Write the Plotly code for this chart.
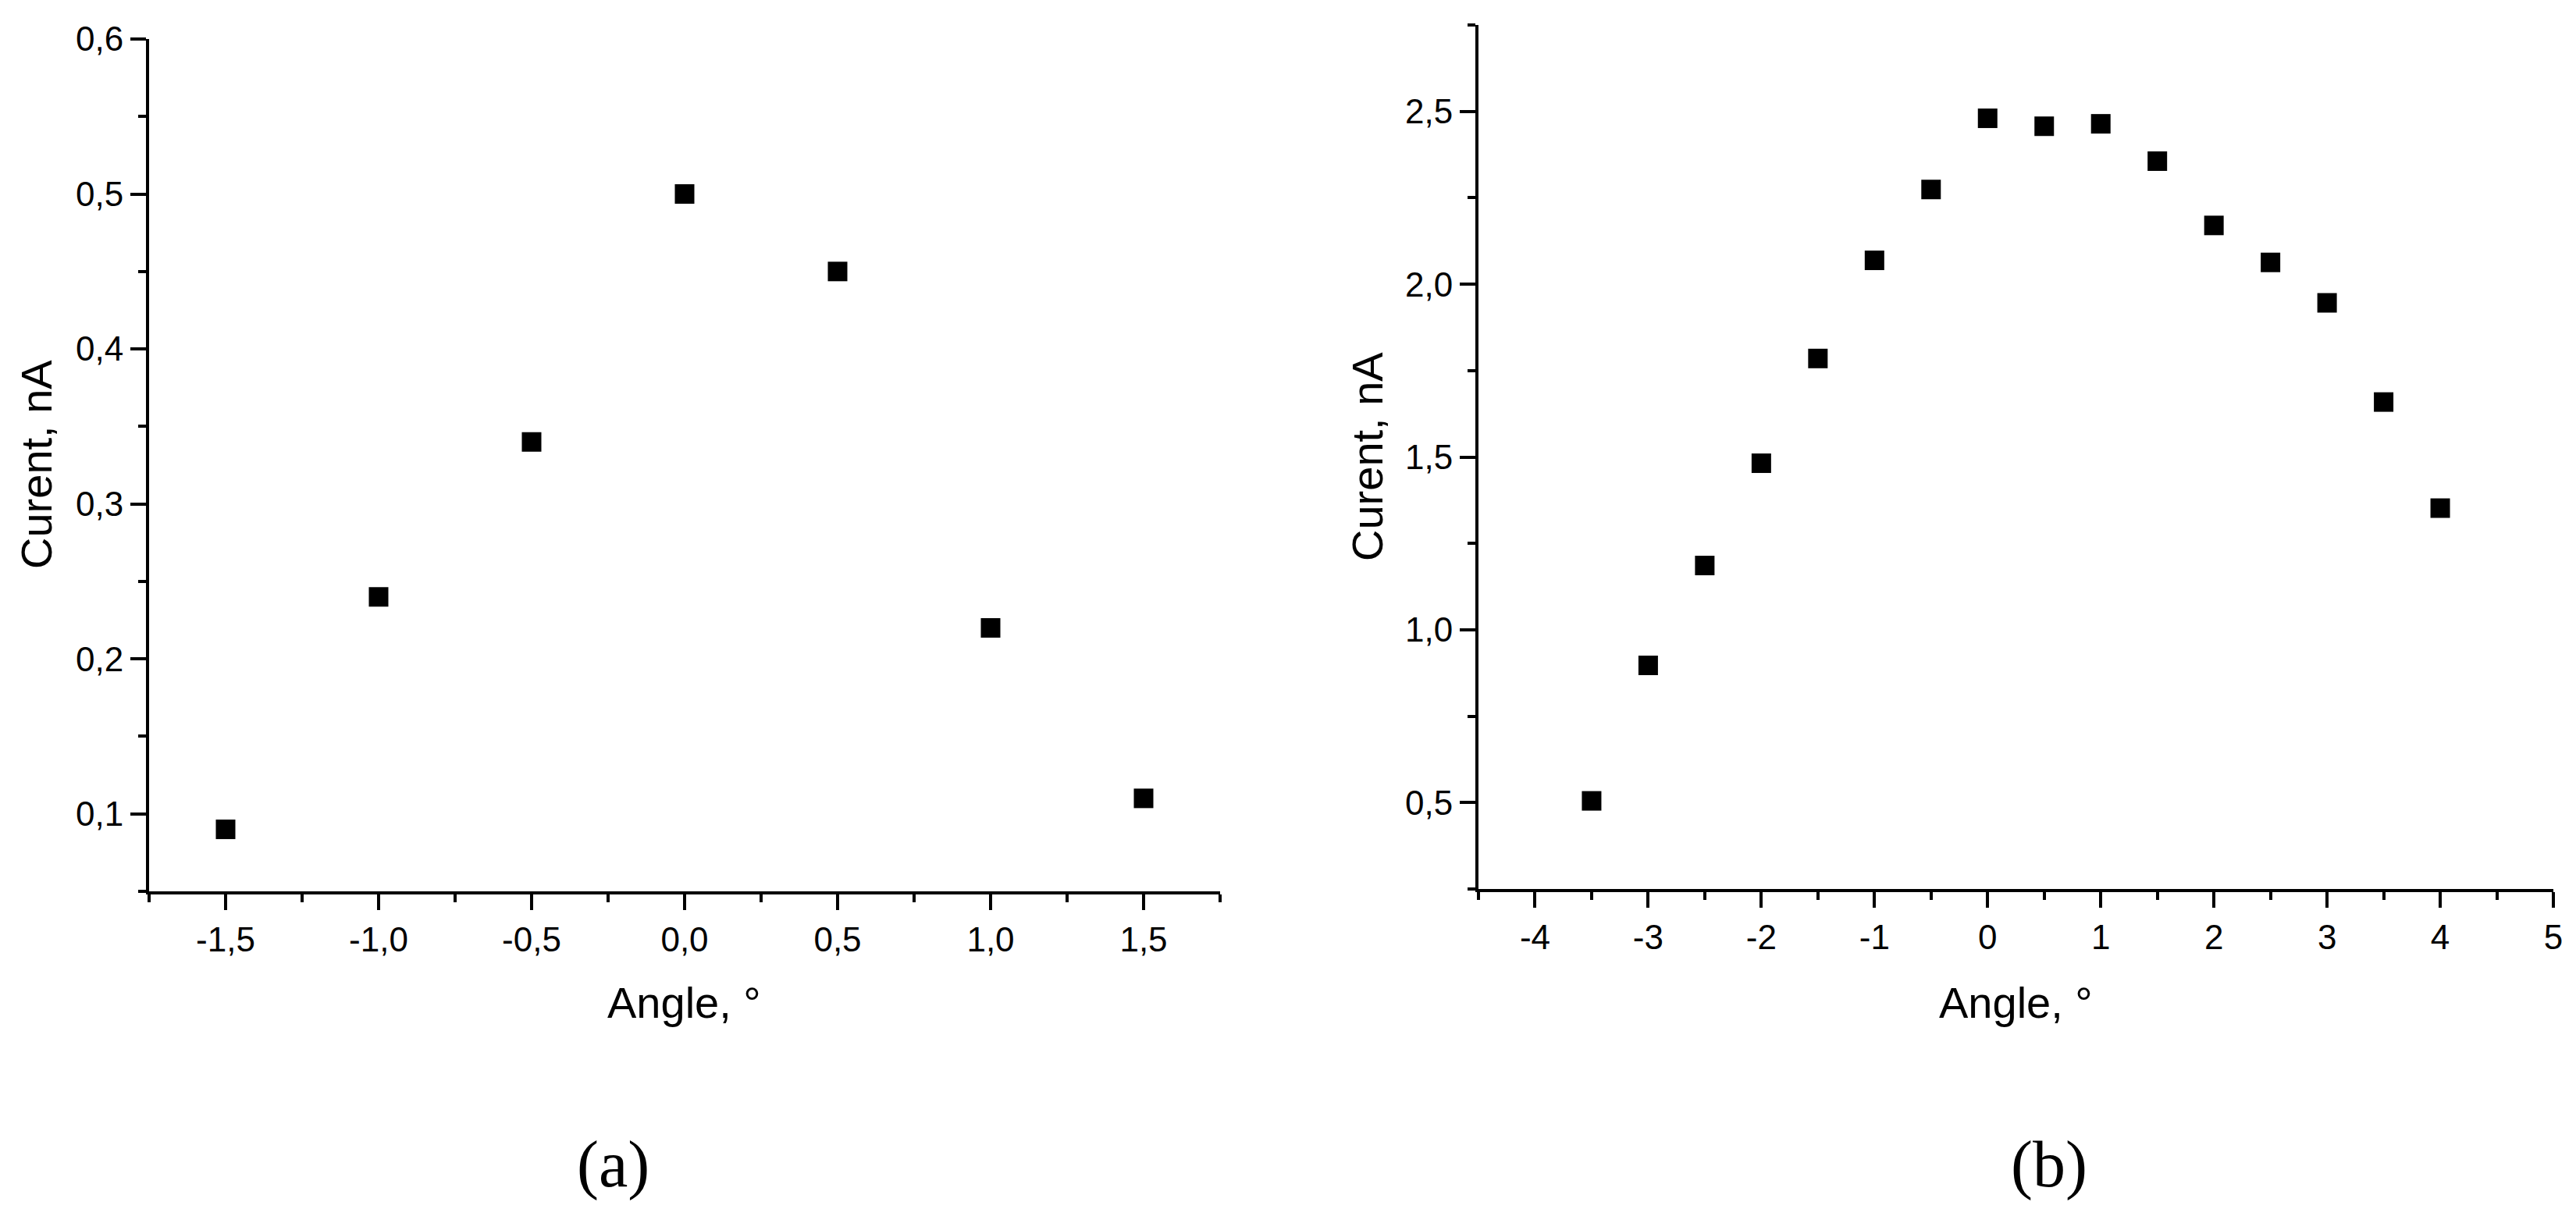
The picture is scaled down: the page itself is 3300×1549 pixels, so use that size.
import plotly.graph_objects as go

# ---- data ----
angle_a = [-1.5, -1.0, -0.5, 0.0, 0.5, 1.0, 1.5]
current_a = [0.09, 0.24, 0.34, 0.50, 0.45, 0.22, 0.11]

angle_b = [-3.5, -3.0, -2.5, -2.0, -1.5, -1.0, -0.5, 0.0, 0.5, 1.0, 1.5, 2.0, 2.5, 3.0, 3.5, 4.0]
current_b = [0.505, 0.897, 1.186, 1.482, 1.785, 2.069, 2.274, 2.480, 2.457, 2.464,
             2.356, 2.170, 2.063, 1.946, 1.659, 1.352]

xticks_a = [-1.5, -1.0, -0.5, 0.0, 0.5, 1.0, 1.5]
xtext_a = ["-1,5", "-1,0", "-0,5", "0,0", "0,5", "1,0", "1,5"]
yticks_a = [0.1, 0.2, 0.3, 0.4, 0.5, 0.6]
ytext_a = ["0,1", "0,2", "0,3", "0,4", "0,5", "0,6"]

xticks_b = [-4, -3, -2, -1, 0, 1, 2, 3, 4, 5]
xtext_b = ["-4", "-3", "-2", "-1", "0", "1", "2", "3", "4", "5"]
yticks_b = [0.5, 1.0, 1.5, 2.0, 2.5]
ytext_b = ["0,5", "1,0", "1,5", "2,0", "2,5"]

x_title = "Angle, \u00b0"
y_title = "Curent, nA"
captions = ["(a)", "(b)"]

# ---- layout geometry (pixels) ----
W, H = 3300, 1549
OFF = 8  # default page body margin


def px_x(p):
    return (p - OFF) / W


def px_y(p):
    return 1 - (p - OFF) / H


tick_font = dict(family="Liberation Sans, Arial, sans-serif", size=44, color="black")
title_font = dict(family="Liberation Sans, Arial, sans-serif", size=56, color="black")
cap_font = dict(family="Liberation Serif, Times New Roman, serif", size=84, color="black")

fig = go.Figure()
fig.add_trace(go.Scatter(x=angle_a, y=current_a, mode="markers", xaxis="x", yaxis="y",
                         marker=dict(symbol="square", size=25, color="black", line=dict(width=0)),
                         showlegend=False))
fig.add_trace(go.Scatter(x=angle_b, y=current_b, mode="markers", xaxis="x2", yaxis="y2",
                         marker=dict(symbol="square", size=25, color="black", line=dict(width=0)),
                         showlegend=False))

common = dict(showgrid=False, zeroline=False, showline=True, linecolor="black", linewidth=4,
              ticks="outside", ticklen=20, tickwidth=4, tickcolor="black", tickfont=tick_font,
              tickmode="array", mirror=False, automargin=False)

fig.update_layout(
    template="none",
    width=W, height=H,
    autosize=False,
    margin=dict(l=0, r=0, t=0, b=0, pad=0, autoexpand=False),
    paper_bgcolor="white", plot_bgcolor="white",
    showlegend=False,
    xaxis=dict(domain=[px_x(191), px_x(1563)], range=[-1.75, 1.75], anchor="y",
               tickvals=xticks_a, ticktext=xtext_a,
               minor=dict(tick0=-1.75, dtick=0.25, ticks="outside", ticklen=10, tickwidth=4,
                          tickcolor="black"), **common),
    yaxis=dict(domain=[px_y(1142), px_y(50)], range=[0.05, 0.6], anchor="x",
               tickvals=yticks_a, ticktext=ytext_a,
               minor=dict(tick0=0.05, dtick=0.05, ticks="outside", ticklen=10, tickwidth=4,
                          tickcolor="black"), **common),
    xaxis2=dict(domain=[px_x(1894), px_x(3271)], range=[-4.5, 5], anchor="y2",
                tickvals=xticks_b, ticktext=xtext_b,
                minor=dict(tick0=-4.5, dtick=0.5, ticks="outside", ticklen=10, tickwidth=4,
                           tickcolor="black"), **common),
    yaxis2=dict(domain=[px_y(1139), px_y(32)], range=[0.25, 2.75], anchor="x2",
                tickvals=yticks_b, ticktext=ytext_b,
                minor=dict(tick0=0.25, dtick=0.25, ticks="outside", ticklen=10, tickwidth=4,
                           tickcolor="black"), **common),
)

ann = []
# x titles
ann.append(dict(text=x_title, x=px_x(877), y=px_y(1284), xref="paper", yref="paper",
                showarrow=False, font=title_font, xanchor="center", yanchor="middle"))
ann.append(dict(text=x_title, x=px_x(2582), y=px_y(1284), xref="paper", yref="paper",
                showarrow=False, font=title_font, xanchor="center", yanchor="middle"))
# y titles
ann.append(dict(text=y_title, x=px_x(46), y=px_y(595), xref="paper", yref="paper",
                showarrow=False, font=title_font, textangle=-90, xanchor="center", yanchor="middle"))
ann.append(dict(text=y_title, x=px_x(1751), y=px_y(585), xref="paper", yref="paper",
                showarrow=False, font=title_font, textangle=-90, xanchor="center", yanchor="middle"))
# captions
ann.append(dict(text=captions[0], x=px_x(785), y=px_y(1492), xref="paper", yref="paper",
                showarrow=False, font=cap_font, xanchor="center", yanchor="middle"))
ann.append(dict(text=captions[1], x=px_x(2625), y=px_y(1492), xref="paper", yref="paper",
                showarrow=False, font=cap_font, xanchor="center", yanchor="middle"))
fig.update_layout(annotations=ann)

fig.write_html("out.html")
